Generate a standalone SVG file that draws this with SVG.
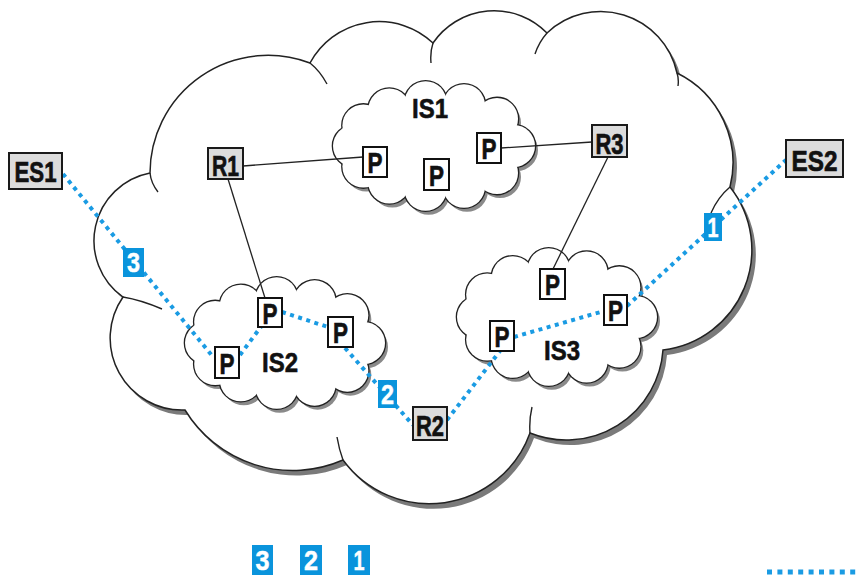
<svg xmlns="http://www.w3.org/2000/svg" xmlns:xlink="http://www.w3.org/1999/xlink" width="863" height="580" viewBox="0 0 863 580">
<style>
.txt{font-family:"Liberation Sans",Arial,sans-serif;font-weight:bold;text-anchor:middle}
.nbox{fill:#dcdcdc;stroke:#1a1a1a;stroke-width:2}
.pbox{fill:#fff;stroke:#111;stroke-width:2}
.ntxt{font-size:30px;fill:#111;stroke:#111;stroke-width:0.7}
.badge{fill:#0a94dc}
.btxt{font-size:28px;fill:#fff;stroke:#fff;stroke-width:0.5}
.link{stroke:#222;stroke-width:1.3;fill:none}
.dot{stroke:#1a9be3;stroke-width:4;stroke-dasharray:4 4.5;fill:none}
.cl-shadow{fill:#8a8a8a;stroke:none}
.cl-line{fill:none;stroke:#222;stroke-width:2.6}
.cl-fill{fill:#fff;stroke:none}
.stub{fill:none;stroke:#222;stroke-width:1.4}
.ltxt{font-size:28px;fill:#111;stroke:#111;stroke-width:0.6}
</style>
<defs>
<path id="bigcloud" d="M150,173 A118 118 0 0 1 310,63 A78.5 78.5 0 0 1 433,43 A74 74 0 0 1 547,33 A78 78 0 0 1 677,73 A100 100 0 0 1 730,187 A101 101 0 0 1 663,350 A97 97 0 0 1 530,433 A107 107 0 0 1 343,460 A126 126 0 0 1 185,410 A72 72 0 0 1 123,297 A69 69 0 0 1 150,173 Z"/>
<g id="is1shape">
<ellipse cx="434" cy="146" rx="80" ry="44"/>
<circle cx="514" cy="146" r="21"/><circle cx="497" cy="173.1" r="21"/><circle cx="464" cy="186.8" r="21"/><circle cx="425.6" cy="189.8" r="21"/><circle cx="389.3" cy="182.5" r="21"/><circle cx="363.4" cy="166.6" r="21"/><circle cx="354" cy="146" r="21"/><circle cx="363.4" cy="125.4" r="21"/><circle cx="389.3" cy="109.5" r="21"/><circle cx="425.6" cy="102.2" r="21"/><circle cx="464" cy="105.2" r="21"/><circle cx="497" cy="118.9" r="21"/>
</g>
<g id="is2shape">
<ellipse cx="285" cy="343" rx="79" ry="45"/>
<circle cx="364" cy="343" r="21"/><circle cx="347.3" cy="370.7" r="21"/><circle cx="314.6" cy="384.7" r="21"/><circle cx="276.7" cy="387.8" r="21"/><circle cx="240.8" cy="380.3" r="21"/><circle cx="215.2" cy="364.1" r="21"/><circle cx="206" cy="343" r="21"/><circle cx="215.2" cy="321.9" r="21"/><circle cx="240.8" cy="305.7" r="21"/><circle cx="276.7" cy="298.2" r="21"/><circle cx="314.6" cy="301.3" r="21"/><circle cx="347.3" cy="315.3" r="21"/>
</g>
<g id="is3shape">
<ellipse cx="557" cy="317" rx="79" ry="48"/>
<circle cx="636" cy="317" r="21"/><circle cx="619.3" cy="346.6" r="21"/><circle cx="586.6" cy="361.5" r="21"/><circle cx="548.7" cy="364.8" r="21"/><circle cx="512.8" cy="356.8" r="21"/><circle cx="487.2" cy="339.5" r="21"/><circle cx="478" cy="317" r="21"/><circle cx="487.2" cy="294.5" r="21"/><circle cx="512.8" cy="277.2" r="21"/><circle cx="548.7" cy="269.2" r="21"/><circle cx="586.6" cy="272.5" r="21"/><circle cx="619.3" cy="287.4" r="21"/>
</g>
</defs>
<rect width="863" height="580" fill="#fff"/>

<g id="network-cloud">
<use xlink:href="#bigcloud" href="#bigcloud" transform="translate(4,5)" fill="#7a7a7a"/>
<use xlink:href="#bigcloud" href="#bigcloud" fill="#fff" stroke="#222" stroke-width="1.5"/>
<path class="stub" d="M150,173 Q151,183 158,192 M310,63 Q320,71 327,84 M433,43 Q430,52 431,63 M547,33 Q539,42 535,54 M677,73 Q679,79 678,86 M730,187 Q718,197 711,213 M530,433 Q529,420 532,407 M343,460 Q339,449 337,437 M123,297 Q141,300 162,309"/>
</g>

<g id="IS1">
<use xlink:href="#is1shape" href="#is1shape" class="cl-shadow" transform="translate(3,4)"/>
<use xlink:href="#is1shape" href="#is1shape" class="cl-line"/>
<use xlink:href="#is1shape" href="#is1shape" class="cl-fill"/>
<text class="txt ltxt" x="430" y="118" textLength="36" lengthAdjust="spacingAndGlyphs">IS1</text>
</g>
<g id="IS2">
<use xlink:href="#is2shape" href="#is2shape" class="cl-shadow" transform="translate(3,4)"/>
<use xlink:href="#is2shape" href="#is2shape" class="cl-line"/>
<use xlink:href="#is2shape" href="#is2shape" class="cl-fill"/>
<text class="txt ltxt" x="280" y="372" textLength="36" lengthAdjust="spacingAndGlyphs">IS2</text>
</g>
<g id="IS3">
<use xlink:href="#is3shape" href="#is3shape" class="cl-shadow" transform="translate(3,4)"/>
<use xlink:href="#is3shape" href="#is3shape" class="cl-line"/>
<use xlink:href="#is3shape" href="#is3shape" class="cl-fill"/>
<text class="txt ltxt" x="562" y="360" textLength="36" lengthAdjust="spacingAndGlyphs">IS3</text>
</g>

<g id="connectors">
<line class="link" x1="243" y1="166" x2="363" y2="157"/>
<line class="link" x1="228" y1="179" x2="265" y2="298"/>
<line class="link" x1="501" y1="148" x2="592" y2="142"/>
<line class="link" x1="608" y1="157" x2="553" y2="269"/>
<line class="dot" x1="63" y1="174" x2="214" y2="358"/>
<line class="dot" x1="240" y1="355" x2="263" y2="324"/>
<line class="dot" x1="282" y1="312" x2="328" y2="327"/>
<line class="dot" x1="345" y1="348" x2="413" y2="425"/>
<line class="dot" x1="447" y1="420" x2="500" y2="351"/>
<line class="dot" x1="514" y1="337" x2="604" y2="311"/>
<line class="dot" x1="627" y1="306" x2="786" y2="160"/>
</g>

<g id="ES1"><rect class="nbox" x="9" y="153" width="53" height="36"/><text class="txt ntxt" x="35.5" y="182" font-size="31" textLength="42" lengthAdjust="spacingAndGlyphs">ES1</text></g>
<g id="ES2"><rect class="nbox" x="786" y="140" width="57" height="37"/><text class="txt ntxt" x="814.5" y="171" font-size="31" textLength="46" lengthAdjust="spacingAndGlyphs">ES2</text></g>
<g id="R1"><rect class="nbox" x="208" y="148" width="35" height="31"/><text class="txt ntxt" x="225.5" y="176" textLength="27" lengthAdjust="spacingAndGlyphs">R1</text></g>
<g id="R3"><rect class="nbox" x="592" y="125" width="35" height="32"/><text class="txt ntxt" x="609.5" y="153.5" textLength="28" lengthAdjust="spacingAndGlyphs">R3</text></g>
<g id="R2"><rect class="nbox" x="413" y="407" width="34" height="33"/><text class="txt ntxt" x="430" y="436" textLength="28" lengthAdjust="spacingAndGlyphs">R2</text></g>

<g id="IS1-P1"><rect class="pbox" x="363" y="147" width="24" height="30"/><text class="txt ntxt" x="375" y="173" textLength="15" lengthAdjust="spacingAndGlyphs">P</text></g>
<g id="IS1-P2"><rect class="pbox" x="424" y="159" width="25" height="31"/><text class="txt ntxt" x="436.5" y="185.5" textLength="15" lengthAdjust="spacingAndGlyphs">P</text></g>
<g id="IS1-P3"><rect class="pbox" x="477" y="133" width="24" height="30"/><text class="txt ntxt" x="489" y="159" textLength="15" lengthAdjust="spacingAndGlyphs">P</text></g>
<g id="IS2-P1"><rect class="pbox" x="258" y="298" width="24" height="29"/><text class="txt ntxt" x="270" y="323.5" textLength="15" lengthAdjust="spacingAndGlyphs">P</text></g>
<g id="IS2-P2"><rect class="pbox" x="328" y="317" width="25" height="30"/><text class="txt ntxt" x="340.5" y="343" textLength="15" lengthAdjust="spacingAndGlyphs">P</text></g>
<g id="IS2-P3"><rect class="pbox" x="215" y="347" width="24" height="31"/><text class="txt ntxt" x="227" y="373.5" textLength="15" lengthAdjust="spacingAndGlyphs">P</text></g>
<g id="IS3-P1"><rect class="pbox" x="540" y="269" width="25" height="30"/><text class="txt ntxt" x="552.5" y="295" textLength="15" lengthAdjust="spacingAndGlyphs">P</text></g>
<g id="IS3-P2"><rect class="pbox" x="604" y="295" width="23" height="30"/><text class="txt ntxt" x="615.5" y="321" textLength="15" lengthAdjust="spacingAndGlyphs">P</text></g>
<g id="IS3-P3"><rect class="pbox" x="490" y="321" width="24" height="30"/><text class="txt ntxt" x="502" y="347" textLength="15" lengthAdjust="spacingAndGlyphs">P</text></g>

<g id="badge-3"><rect class="badge" x="123" y="248" width="21" height="29"/><text class="txt btxt" x="133.5" y="272" textLength="13" lengthAdjust="spacingAndGlyphs">3</text></g>
<g id="badge-2"><rect class="badge" x="378" y="380" width="19" height="28"/><text class="txt btxt" x="387.5" y="404" textLength="13" lengthAdjust="spacingAndGlyphs">2</text></g>
<g id="badge-1"><rect class="badge" x="704" y="213" width="18" height="28"/><text class="txt btxt" x="713" y="237" textLength="11" lengthAdjust="spacingAndGlyphs">1</text></g>

<g id="legend">
<rect class="badge" x="252" y="545" width="21" height="30"/><text class="txt btxt" x="262.5" y="570" textLength="14" lengthAdjust="spacingAndGlyphs">3</text>
<rect class="badge" x="300" y="545" width="22" height="30"/><text class="txt btxt" x="311" y="570" textLength="14" lengthAdjust="spacingAndGlyphs">2</text>
<rect class="badge" x="348" y="545" width="22" height="30"/><text class="txt btxt" x="359" y="570" textLength="11" lengthAdjust="spacingAndGlyphs">1</text>
<line x1="767" y1="572" x2="860" y2="572" stroke="#1a9be3" stroke-width="5" stroke-dasharray="5 5.4"/>
</g>
</svg>
